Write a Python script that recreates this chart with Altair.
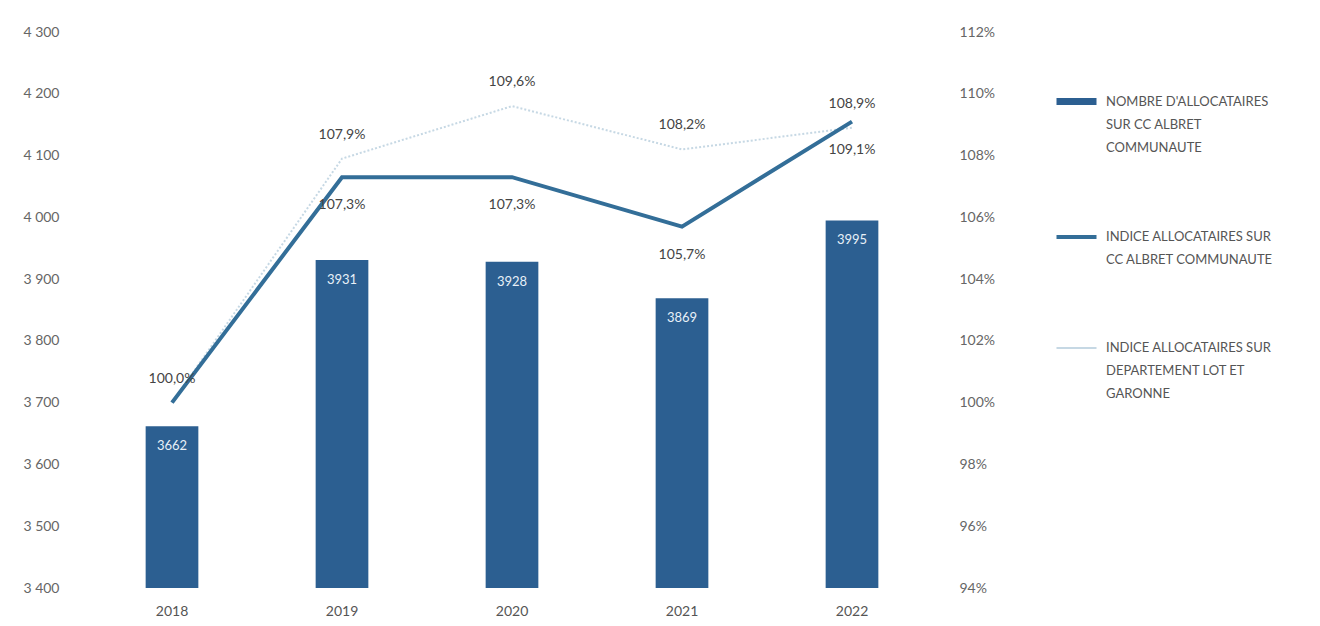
import altair as alt
import pandas as pd

years = ["2018", "2019", "2020", "2021", "2022"]
allocataires = [3662, 3931, 3928, 3869, 3995]
indice_cc = [100.0, 107.3, 107.3, 105.7, 109.1]
indice_dep = [100.0, 107.9, 109.6, 108.2, 108.9]
series = [
    "NOMBRE D'ALLOCATAIRES|SUR CC ALBRET|COMMUNAUTE",
    "INDICE ALLOCATAIRES SUR|CC ALBRET COMMUNAUTE",
    "INDICE ALLOCATAIRES SUR|DEPARTEMENT LOT ET|GARONNE",
]
colors = ["#2c5f91", "#336e98", "#c6d8e4"]
widths = [7, 4, 2]
left_ticks = [3400, 3500, 3600, 3700, 3800, 3900, 4000, 4100, 4200, 4300]
right_ticks = [94, 96, 98, 100, 102, 104, 106, 108, 110, 112]

bars_df = pd.DataFrame({"annee": years, "valeur": allocataires, "serie": series[0]})
lines_df = pd.DataFrame({
    "annee": years + years,
    "indice": indice_cc + indice_dep,
    "serie": [series[1]] * len(years) + [series[2]] * len(years),
})

FONT = "Lato"
color_scale = alt.Scale(domain=series, range=colors)
width_scale = alt.Scale(type="ordinal", domain=series, range=widths)
legend = alt.Legend(
    title=None, orient="none", legendX=966, legendY=46,
    symbolType="stroke", symbolSize=1600,
    labelExpr="split(datum.label, '|')", rowPadding=60,
    labelFontSize=13, labelColor="#555", labelLimit=400, labelFont=FONT,
    labelOffset=6,
)

x_enc = alt.X("annee:N", title=None,
              scale=alt.Scale(paddingInner=0.69, paddingOuter=0.345),
              axis=alt.Axis(labelAngle=0, domain=False, ticks=False,
                            labelPadding=16, labelFontSize=14,
                            labelColor="#555", labelFont=FONT))

y_left = alt.Y("valeur:Q", title=None,
               scale=alt.Scale(domain=[3400, 4300], nice=False, zero=False),
               axis=alt.Axis(values=left_ticks, grid=False, domain=False, ticks=False,
                             labelPadding=28, labelFontSize=14, labelColor="#666",
                             labelFont=FONT,
                             labelExpr="replace(format(datum.value, ','), ',', ' ')"))

col_enc = alt.Color("serie:N", scale=color_scale, legend=legend)
sw_enc = alt.StrokeWidth("serie:N", scale=width_scale, legend=legend)

bars = alt.Chart(bars_df).mark_bar(clip=True, strokeOpacity=0).encode(
    x=x_enc, y=y_left, color=col_enc, strokeWidth=sw_enc,
)
bar_text = alt.Chart(bars_df).mark_text(
    color="#e8f0f8", baseline="top", dy=14, fontSize=13, font=FONT
).encode(x=x_enc, y=y_left, text=alt.Text("valeur:Q", format="d"))

left = alt.layer(bars, bar_text)

y_right = alt.Y("indice:Q", title=None,
                scale=alt.Scale(domain=[94, 112], nice=False, zero=False),
                axis=alt.Axis(orient="right", values=right_ticks, grid=False,
                              domain=False, ticks=False, labelPadding=22,
                              labelFontSize=14, labelColor="#666", labelFont=FONT,
                              labelExpr="datum.value + '%'"))

base = alt.Chart(lines_df).transform_calculate(
    lab="replace(format(datum.indice, '.1f'), '.', ',') + '%'"
)
line_dep = base.transform_filter(alt.datum.serie == series[2]).mark_line(
    strokeDash=[2, 2]
).encode(x=x_enc, y=y_right, color=col_enc, strokeWidth=sw_enc)
line_cc = base.transform_filter(alt.datum.serie == series[1]).mark_line().encode(
    x=x_enc, y=y_right, color=col_enc, strokeWidth=sw_enc)
lab_dep = base.transform_filter(alt.datum.serie == series[2]).mark_text(
    dy=-24, fontSize=14, color="#444", font=FONT
).encode(x=x_enc, y=y_right, text="lab:N")
lab_cc = base.transform_filter(
    (alt.datum.serie == series[1]) & (alt.datum.annee != "2018")
).mark_text(dy=28, fontSize=14, color="#444", font=FONT).encode(
    x=x_enc, y=y_right, text="lab:N")

right = alt.layer(line_dep, line_cc, lab_dep, lab_cc)

chart = alt.layer(left, right).resolve_scale(y="independent").properties(
    width=850, height=556,
    padding={"left": 79, "top": 24, "right": 375, "bottom": 30},
    autosize=alt.AutoSizeParams(type="none"),
).configure(
    style={"guide-label": {"lineHeight": 23}}
).configure_view(stroke=None)

chart.save("out.html", embed_options={"renderer": "svg", "actions": False})
